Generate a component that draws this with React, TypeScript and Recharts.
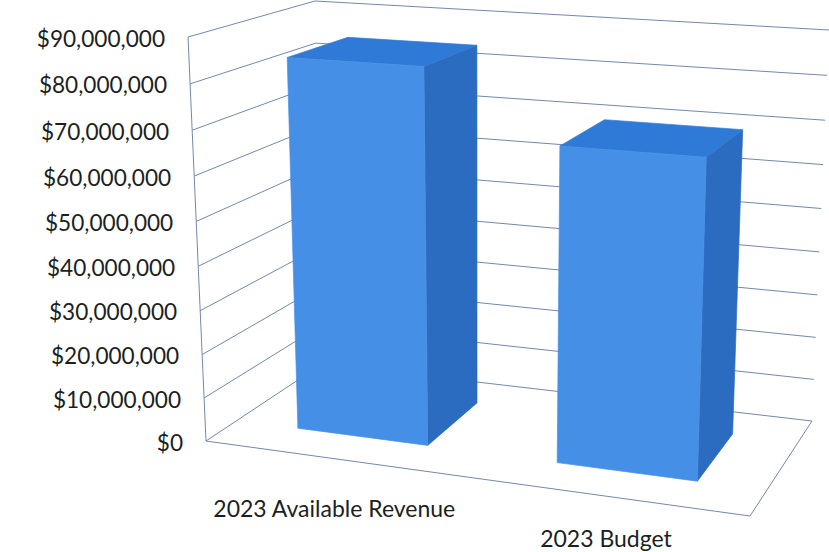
import React from 'react';
import { BarChart, Bar, CartesianGrid, XAxis, YAxis } from 'recharts';

const categories = ['2023 Available Revenue', '2023 Budget'];
const amounts = [84300000, 69500000];
const valueTicks = [0, 10000000, 20000000, 30000000, 40000000, 50000000, 60000000, 70000000, 80000000, 90000000];

const chartData = categories.map((name, i) => ({ name, amount: amounts[i] }));

const WIDTH = 829;
const HEIGHT = 552;
const PLOT = { left: 40, top: 40, width: 749, height: 472 };
const AXIS_SIZE = 1;

type Pt = [number, number];

// corners of the 3D box: floor and ceiling, each front-left, front-right, back-left, back-right
const FLOOR: Pt[] = [[206, 441], [750, 516], [322, 364], [812, 421]];
const CEILING: Pt[] = [[188, 37], [765, 73], [315, 1], [829, 30]];

// columns sit between these two depths
const BAR_FRONT = 0.27;
const BAR_BACK = 0.78;

const GRID_COLOR = '#7289ab';
const TEXT_COLOR = '#1c1f22';
const FONT = 'Lato, sans-serif';

const FACE_FRONT = '#4590e6';
const FACE_TOP = '#2f7ad6';
const FACE_SIDE = '#2c6cc0';

// mild perspective foreshortening
const warp = (t: number, k: number) => t / (k - (k - 1) * t);

const mix = (a: Pt, b: Pt, t: number): Pt => [a[0] + (b[0] - a[0]) * t, a[1] + (b[1] - a[1]) * t];

const project = (u: number, v: number, d: number): Pt => {
  const uw = warp(u, 1.08);
  const vw = warp(v, 1.05);
  const bottom = mix(mix(FLOOR[0], FLOOR[1], uw), mix(FLOOR[2], FLOOR[3], uw), d);
  const top = mix(mix(CEILING[0], CEILING[1], uw), mix(CEILING[2], CEILING[3], uw), d);
  return mix(bottom, top, vw);
};

const toU = (x: number) => (x - PLOT.left) / PLOT.width;
const toV = (y: number) => (PLOT.top + PLOT.height - y) / PLOT.height;

const poly = (pts: Pt[]) => pts.map((p) => `${p[0].toFixed(1)},${p[1].toFixed(1)}`).join(' ');

const Segment = ({ from, to }: { from: Pt; to: Pt }) => (
  <line x1={from[0]} y1={from[1]} x2={to[0]} y2={to[1]} stroke={GRID_COLOR} strokeWidth={1} />
);

// one value level: a line across the side wall and on across the back wall
const WallLine = ({ y1 }: any) => {
  const v = toV(y1);
  const isFloor = Math.abs(v) < 0.001;
  const isTop = Math.abs(v - 1) < 0.001;
  return (
    <g>
      <Segment from={project(0, v, 0)} to={project(0, v, 1)} />
      <Segment from={project(0, v, 1)} to={project(1, v, 1)} />
      {isFloor && <Segment from={project(0, 0, 0)} to={project(1, 0, 0)} />}
      {isFloor && <Segment from={project(1, 0, 0)} to={project(1, 0, 1)} />}
      {isTop && <Segment from={project(0, 0, 0)} to={project(0, 1, 0)} />}
    </g>
  );
};

const Face = ({ pts, color }: { pts: Pt[]; color: string }) => (
  <polygon points={poly(pts)} fill={color} stroke={color} strokeWidth={0.7} strokeLinejoin="round" />
);

const Column = ({ x, y, width, height }: any) => {
  const u0 = toU(x);
  const u1 = toU(x + width);
  const v0 = toV(y + height);
  const v1 = toV(y);
  const fl = project(u0, v1, BAR_FRONT);
  const fr = project(u1, v1, BAR_FRONT);
  const bl = project(u0, v1, BAR_BACK);
  const br = project(u1, v1, BAR_BACK);
  const flb = project(u0, v0, BAR_FRONT);
  const frb = project(u1, v0, BAR_FRONT);
  const brb = project(u1, v0, BAR_BACK);
  return (
    <g>
      <Face pts={[fr, br, brb, frb]} color={FACE_SIDE} />
      <Face pts={[fl, bl, br, fr]} color={FACE_TOP} />
      <Face pts={[fl, fr, frb, flb]} color={FACE_FRONT} />
    </g>
  );
};

const ValueTick = ({ y, payload }: any) => {
  const [px, py] = project(0, toV(y), 0);
  return (
    <text x={px - 23} y={py + 1} textAnchor="end" dominantBaseline="central" fontFamily={FONT} fontSize={22.6} fill={TEXT_COLOR}>
      {`$${payload.value.toLocaleString('en-US')}`}
    </text>
  );
};

const CategoryTick = ({ x, index, payload }: any) => {
  const [px, py] = project(toU(x), 0, 0);
  const drop = index === 0 ? 49 : 42;
  return (
    <text x={px} y={py + drop} textAnchor="middle" dominantBaseline="central" fontFamily={FONT} fontSize={23} fill={TEXT_COLOR}>
      {payload.value}
    </text>
  );
};

export default function App() {
  return (
    <div style={{ position: 'absolute', left: 0, top: 0, width: WIDTH, height: HEIGHT, background: '#fff' }}>
      <BarChart
        width={WIDTH}
        height={HEIGHT}
        data={chartData}
        barCategoryGap="24.5%"
        margin={{
          left: PLOT.left - AXIS_SIZE,
          top: PLOT.top,
          right: WIDTH - PLOT.left - PLOT.width,
          bottom: HEIGHT - PLOT.top - PLOT.height - AXIS_SIZE,
        }}
      >
        <CartesianGrid vertical={false} horizontal={(props: any) => <WallLine key={props.key} {...props} />} />
        <XAxis dataKey="name" height={AXIS_SIZE} axisLine={false} tickLine={false} interval={0} tick={(props: any) => <CategoryTick {...props} />} />
        <YAxis
          width={AXIS_SIZE}
          domain={[0, 90000000]}
          ticks={valueTicks}
          interval={0}
          axisLine={false}
          tickLine={false}
          tick={(props: any) => <ValueTick {...props} />}
        />
        <Bar dataKey="amount" isAnimationActive={false} shape={(props: any) => <Column {...props} />} />
      </BarChart>
    </div>
  );
}
